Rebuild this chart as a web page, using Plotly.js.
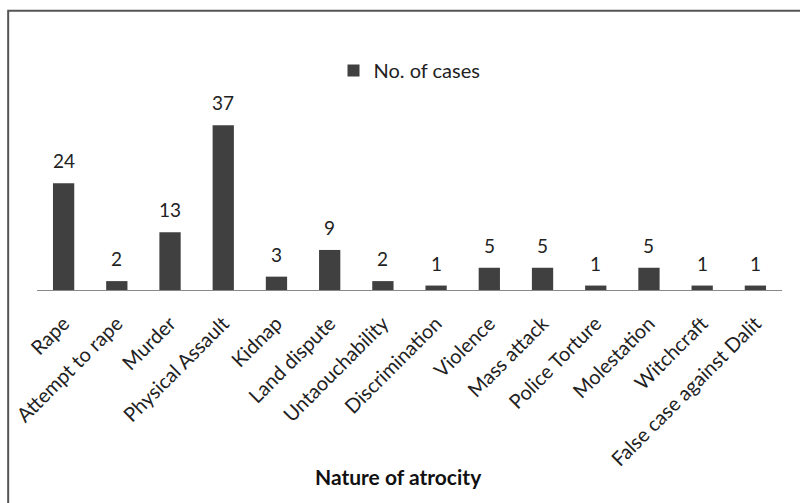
<!DOCTYPE html>
<html>
<head>
<meta charset="utf-8">
<script src="https://cdn.plot.ly/plotly-3.0.1.min.js"></script>
<style>html,body{margin:0;padding:0;background:#fff;}#chart{width:800px;height:503px;}</style>
</head>
<body>
<div id="chart"></div>
<script>
var categories = ["Rape","Attempt to rape","Murder","Physical Assault","Kidnap","Land dispute","Untaouchability","Discrimination","Violence","Mass attack","Police Torture","Molestation","Witchcraft","False case against Dalit"];
var cases = [24,2,13,37,3,9,2,1,5,5,1,5,1,1];
var seriesName = "No. of cases";
var xTitle = "Nature of atrocity";

var FONT = "Lato, Open Sans, sans-serif";
var trace = {
  type: "bar",
  x: categories,
  y: cases,
  name: seriesName,
  marker: {color: "#404040"},
  showlegend: true,
  hoverinfo: "x+y"
};
var annotations = categories.map(function(c, i){
  return {x: c, y: cases[i], xref: "x", yref: "y", text: String(cases[i]),
    showarrow: false, yanchor: "bottom", yshift: 9,
    font: {family: FONT, size: 19, color: "#222"}};
});
annotations.push({x: 0.4846, y: -1.048, xref: "paper", yref: "paper", text: xTitle,
  showarrow: false, xanchor: "center", yanchor: "middle",
  font: {family: FONT, size: 21, color: "#111", weight: "bold"}});
var layout = {
  width: 800, height: 503,
  margin: {l: 37, r: 18, t: 112, b: 213},
  paper_bgcolor: "#fff", plot_bgcolor: "#fff",
  bargap: 0.6,
  showlegend: true,
  legend: {orientation: "h", x: 0.398, xanchor: "left", y: 1.233, yanchor: "middle",
    font: {family: FONT, size: 20, color: "#222"}, bgcolor: "rgba(0,0,0,0)"},
  xaxis: {
    type: "category", tickangle: -45,
    tickfont: {family: FONT, size: 20, color: "#222"},
    showline: true, linecolor: "#888", linewidth: 1,
    ticks: "", showgrid: false, ticklabelstandoff: 13
  },
  yaxis: {range: [0, 40], visible: false, showgrid: false, zeroline: false},
  annotations: annotations,
  shapes: [{type: "rect", xref: "paper", yref: "paper",
    x0: -0.0387, x1: 1.2, y0: -3, y1: 1.569,
    line: {color: "#555", width: 2}, fillcolor: "rgba(0,0,0,0)", layer: "below"}]
};
Plotly.newPlot("chart", [trace], layout, {displayModeBar: false, staticPlot: true});
</script>
</body>
</html>
